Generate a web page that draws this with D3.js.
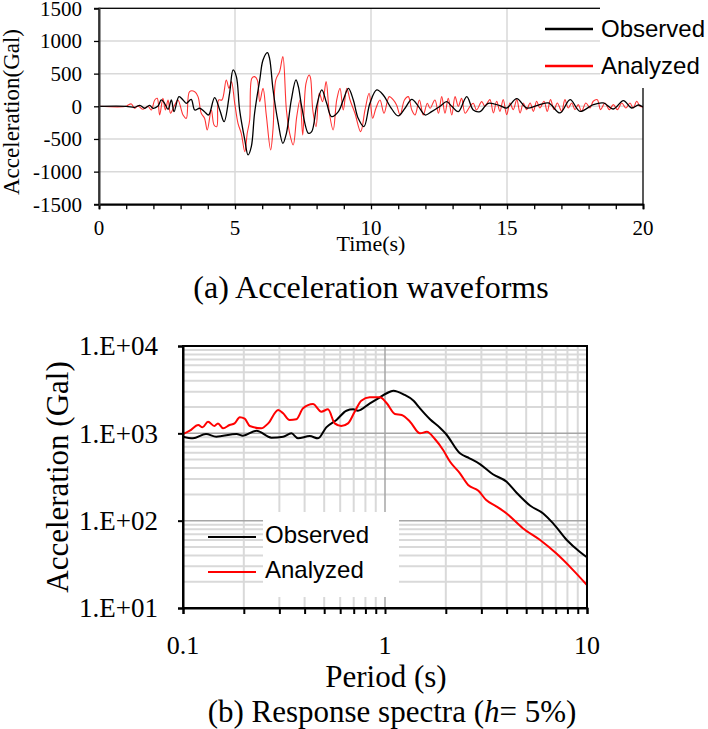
<!DOCTYPE html>
<html><head><meta charset="utf-8">
<script src="https://cdn.jsdelivr.net/npm/d3@7"></script>
<style>
html,body{margin:0;padding:0;background:#fff;}
svg{display:block;}
</style></head>
<body>
<svg id="c" width="708" height="729"></svg>
<script>
// ---- (a) Acceleration waveforms ----
const waveXTicks = [0, 5, 10, 15, 20];
const waveYTicks = [-1500, -1000, -500, 0, 500, 1000, 1500];
const obsTime = [0,1.0,1.31,1.5,1.68,1.86,1.99,2.17,2.29,2.41,
  2.54,2.66,2.76,2.94,3.09,3.21,3.39,3.52,3.7,3.88,
  4.03,4.25,4.44,4.6,4.8,4.93,5.05,5.17,5.36,5.48,
  5.6,5.72,5.91,6.03,6.19,6.27,6.4,6.58,6.76,6.89,
  7.07,7.24,7.33,7.45,7.7,7.82,8.0,8.19,8.37,8.55,
  8.8,8.98,9.17,9.35,9.53,9.74,9.96,10.21,10.45,10.7,
  11.0,11.25,11.5,11.74,11.99,12.23,12.54,12.78,12.97,13.21,
  13.52,13.76,14.01,14.31,14.74,14.99,15.36,15.72,16.09,16.52,
  16.95,17.32,17.68,18.17,18.54,18.91,19.28,19.58,19.83,20];
const obsAccel = [0,0,-15,15,-30,15,-30,5,97,46,
  -46,97,-82,148,97,46,107,-56,-30,-82,
  -133,133,-56,-235,199,556,454,-56,-515,-745,
  -617,-107,403,709,821,734,250,-235,-566,-413,
  97,403,301,0,-413,-388,0,250,46,-158,
  -82,97,275,97,-184,-311,46,250,173,0,
  -148,-30,107,0,-133,-82,0,71,0,-82,
  148,-56,-82,46,10,-26,117,-26,10,51,
  -102,102,-77,26,51,-41,87,-26,20,-10];
const anaTime = [0,1.0,1.07,1.19,1.31,1.43,1.62,1.8,1.92,2.05,
  2.14,2.23,2.35,2.44,2.54,2.63,2.76,2.9,3.09,3.21,
  3.33,3.52,3.64,3.76,3.88,3.98,4.13,4.23,4.33,4.4,
  4.52,4.68,4.78,4.87,4.99,5.11,5.23,5.36,5.45,5.54,
  5.62,5.72,5.82,5.91,6.03,6.15,6.31,6.4,6.5,6.64,
  6.76,6.89,7.01,7.14,7.27,7.39,7.49,7.61,7.73,7.78,
  7.86,7.98,8.1,8.22,8.35,8.47,8.61,8.74,8.86,8.98,
  9.11,9.23,9.41,9.62,9.78,9.93,10.06,10.18,10.33,10.48,
  10.67,10.82,10.94,11.07,11.23,11.37,11.5,11.62,11.78,11.92,
  12.07,12.17,12.35,12.48,12.6,12.72,12.84,12.97,13.09,13.21,
  13.33,13.46,13.64,13.76,13.88,14.07,14.19,14.37,14.5,14.62,
  14.74,14.86,14.99,15.11,15.23,15.36,15.48,15.6,15.72,15.85,
  15.97,16.09,16.21,16.36,16.48,16.6,16.73,16.85,17.01,17.13,
  17.25,17.38,17.5,17.62,17.74,17.9,18.05,18.17,18.32,18.44,
  18.6,18.76,18.91,19.06,19.22,19.37,19.52,19.64,19.77,19.89,
  20];
const anaAccel = [0,0,20,36,-31,5,-46,0,-56,97,
  122,-133,122,-56,97,-107,0,97,-133,-184,
  224,224,148,-107,-184,-362,-56,-286,-311,97,
  97,403,275,377,46,-260,-413,-694,-413,-209,
  428,454,403,71,275,-133,-668,-337,403,530,
  760,-56,-413,-592,-158,97,-439,352,479,428,
  -56,-311,199,71,377,-107,-362,97,275,-56,
  275,97,-107,-388,-56,199,-184,-31,97,-107,
  148,97,20,-133,97,148,-56,-133,97,-133,
  46,-31,97,-107,148,-107,122,-133,148,0,
  122,-107,0,46,-56,71,0,102,-102,77,
  -77,102,-128,51,-51,102,-102,51,-51,51,
  -77,77,-26,77,-77,102,-51,51,-77,102,
  -26,51,-51,26,-77,51,-26,77,102,-51,
  51,-51,26,-51,51,-26,51,-26,77,0,
  -10];

// ---- (b) Response spectra ----
const specXTicks = [0.1, 1, 10];
const specYTicks = [10, 100, 1000, 10000];
const specYLabels = ["1.E+01", "1.E+02", "1.E+03", "1.E+04"];
const obsPeriod = [0.1,0.112,0.13,0.146,0.184,0.198,0.231,0.274,0.313,0.344,
  0.371,0.424,0.466,0.512,0.575,0.644,0.696,0.734,0.842,0.944,
  1.02,1.1,1.25,1.385,1.49,1.67,1.87,2.0,2.35,2.62,
  2.95,3.42,4.0,4.48,5.24,6.07,6.8,7.94,9.2,10];
const obsSa = [916,877,982,916,982,940,1072,893,916,1000,
  877,930,877,1172,1422,1816,1884,1816,2208,2588,
  2877,3080,2750,2366,1930,1450,1160,990,590,518,
  445,340,279,209,148,121,93,60,44,38];
const anaPeriod = [0.1,0.108,0.119,0.125,0.133,0.143,0.149,0.158,0.17,0.18,
  0.191,0.202,0.214,0.244,0.264,0.296,0.313,0.337,0.364,0.393,
  0.44,0.484,0.522,0.564,0.607,0.656,0.708,0.763,0.84,0.944,
  1.02,1.12,1.21,1.33,1.49,1.61,1.77,1.94,2.1,2.35,
  2.58,2.9,3.17,3.57,4.0,4.81,5.86,7.06,8.56,10];
const anaSa = [980,1072,1245,1172,1360,1213,1300,1143,1245,1300,
  1527,1470,1213,1143,1300,1850,1694,1422,1450,1936,
  2168,1770,1884,1300,1213,1300,1770,2366,2588,2588,
  2208,1664,1620,1360,1000,1040,855,644,473,348,
  256,220,172,145,121,82,60,42,27,18.3];

const seriesNames = ["Observed", "Analyzed"];
const seriesColors = ["#000000", "#ff0000"];

const SERIF = "'Liberation Serif','Times New Roman',Times,serif";
const SANS = "'Liberation Sans',Arial,Helvetica,sans-serif";
const svg = d3.select("#c");

// ================= Chart (a) =================
{
  const L = 99, R = 643, T = 8.3, B = 204.3;
  const x = d3.scaleLinear().domain([0, 20]).range([L, R]);
  const y = d3.scaleLinear().domain([-1500, 1500]).range([B, T]);
  const g = svg.append("g");
  g.selectAll(".hg").data(waveYTicks.filter(v => v > -1500 && v < 1500)).join("line")
    .attr("x1", L).attr("x2", R).attr("y1", d => y(d)).attr("y2", d => y(d))
    .attr("stroke", "#d9d9d9").attr("stroke-width", 1.5);
  g.selectAll(".vg").data(waveXTicks.filter(v => v > 0 && v < 20)).join("line")
    .attr("y1", T).attr("y2", B).attr("x1", d => x(d)).attr("x2", d => x(d))
    .attr("stroke", "#d9d9d9").attr("stroke-width", 1.5);
  g.append("defs").append("clipPath").attr("id", "clipA").append("rect")
    .attr("x", L).attr("y", T).attr("width", R - L).attr("height", B - T);
  const line = d3.line().x(d => x(d[0])).y(d => y(d[1])).curve(d3.curveCatmullRom.alpha(0.5));
  g.append("path").datum(anaTime.map((t, i) => [t, anaAccel[i]]))
    .attr("d", line).attr("fill", "none").attr("stroke", "#ff0000")
    .attr("stroke-opacity", 0.8).attr("stroke-width", 1.1).attr("clip-path", "url(#clipA)");
  g.append("path").datum(obsTime.map((t, i) => [t, obsAccel[i]]))
    .attr("d", line).attr("fill", "none").attr("stroke", "#000")
    .attr("stroke-width", 1.3).attr("clip-path", "url(#clipA)");
  g.append("rect").attr("x", L).attr("y", T).attr("width", R - L).attr("height", B - T)
    .attr("fill", "none").attr("stroke", "#000").attr("stroke-width", 1.3);
  const xAxis = d3.axisBottom(x).tickValues(d3.range(0, 21, 1)).tickSize(5).tickFormat("");
  const gx = g.append("g").attr("transform", `translate(0,${B})`).call(xAxis);
  gx.select(".domain").attr("stroke-width", 2);
  gx.selectAll(".tick line").attr("stroke-width", 1.3);
  const yAxis = d3.axisLeft(y).tickValues(waveYTicks).tickSize(5).tickFormat("");
  const gy = g.append("g").attr("transform", `translate(${L},0)`).call(yAxis);
  gy.select(".domain").attr("stroke-width", 2).attr("stroke", "#333");
  gy.selectAll(".tick line").attr("stroke-width", 1.3);
  g.selectAll(".yl").data(waveYTicks).join("text")
    .attr("x", 82).attr("y", d => y(d)).attr("dy", "0.35em")
    .attr("text-anchor", "end").attr("font-family", SERIF).attr("font-size", 21)
    .text(d => d);
  g.selectAll(".xl").data(waveXTicks).join("text")
    .attr("x", d => x(d)).attr("y", 235)
    .attr("text-anchor", "middle").attr("font-family", SERIF).attr("font-size", 21)
    .text(d => d);
  g.append("text").attr("x", 371).attr("y", 251).attr("text-anchor", "middle")
    .attr("font-family", SERIF).attr("font-size", 22).text("Time(s)");
  g.append("text").attr("transform", `translate(19,112) rotate(-90)`)
    .attr("text-anchor", "middle").attr("font-family", SERIF).attr("font-size", 23)
    .text("Acceleration(Gal)");
  g.append("rect").attr("x", 600).attr("y", 0).attr("width", 108).attr("height", 88).attr("fill", "#fff");
  const ly = [29, 66];
  seriesNames.forEach((n, i) => {
    g.append("line").attr("x1", 545).attr("x2", 593).attr("y1", ly[i]).attr("y2", ly[i])
      .attr("stroke", seriesColors[i]).attr("stroke-width", 2.5);
    g.append("text").attr("x", 601).attr("y", ly[i] + 8).attr("font-family", SANS)
      .attr("font-size", 24).text(n);
  });
  svg.append("text").attr("x", 371).attr("y", 298).attr("text-anchor", "middle")
    .attr("font-family", SERIF).attr("font-size", 32).text("(a) Acceleration waveforms");
}

// ================= Chart (b) =================
{
  const L = 183, R = 587, T = 346, B = 608;
  const x = d3.scaleLog().domain([0.1, 10]).range([L, R]);
  const y = d3.scaleLog().domain([10, 10000]).range([B, T]);
  const g = svg.append("g");
  const minorX = [], minorY = [];
  [0.1, 1].forEach(d => { for (let k = 2; k <= 9; k++) minorX.push(d * k); });
  [10, 100, 1000].forEach(d => { for (let k = 2; k <= 9; k++) minorY.push(d * k); });
  g.selectAll(".mvx").data(minorX).join("line")
    .attr("x1", d => x(d)).attr("x2", d => x(d)).attr("y1", T).attr("y2", B)
    .attr("stroke", "#d9d9d9").attr("stroke-width", 2);
  g.selectAll(".mhy").data(minorY).join("line")
    .attr("y1", d => y(d)).attr("y2", d => y(d)).attr("x1", L).attr("x2", R)
    .attr("stroke", "#d9d9d9").attr("stroke-width", 2);
  g.selectAll(".Mvx").data([1]).join("line")
    .attr("x1", d => x(d)).attr("x2", d => x(d)).attr("y1", T).attr("y2", B)
    .attr("stroke", "#a6a6a6").attr("stroke-width", 1.5);
  g.selectAll(".Mhy").data([100, 1000]).join("line")
    .attr("y1", d => y(d)).attr("y2", d => y(d)).attr("x1", L).attr("x2", R)
    .attr("stroke", "#a6a6a6").attr("stroke-width", 1.5);
  g.append("rect").attr("x", 263).attr("y", 512).attr("width", 136).attr("height", 85).attr("fill", "#fff");
  g.append("defs").append("clipPath").attr("id", "clipB").append("rect")
    .attr("x", L).attr("y", T).attr("width", R - L).attr("height", B - T);
  const line = d3.line().x(d => x(d[0])).y(d => y(d[1])).curve(d3.curveMonotoneX);
  g.append("path").datum(obsPeriod.map((p, i) => [p, obsSa[i]]))
    .attr("d", line).attr("fill", "none").attr("stroke", "#000").attr("stroke-width", 2)
    .attr("clip-path", "url(#clipB)");
  g.append("path").datum(anaPeriod.map((p, i) => [p, anaSa[i]]))
    .attr("d", line).attr("fill", "none").attr("stroke", "#ff0000").attr("stroke-width", 2)
    .attr("clip-path", "url(#clipB)");
  g.append("rect").attr("x", L).attr("y", T).attr("width", R - L).attr("height", B - T)
    .attr("fill", "none").attr("stroke", "#000").attr("stroke-width", 2);
  const xAxis = d3.axisBottom(x).tickValues(specXTicks.concat(minorX)).tickSize(6).tickFormat("");
  const gx = g.append("g").attr("transform", `translate(0,${B})`).call(xAxis);
  gx.select(".domain").attr("stroke-width", 2);
  gx.selectAll(".tick line").attr("stroke-width", 2);
  const yAxis = d3.axisLeft(y).tickValues(specYTicks).tickSize(5).tickFormat("");
  const gy = g.append("g").attr("transform", `translate(${L},0)`).call(yAxis);
  gy.select(".domain").attr("stroke-width", 2);
  gy.selectAll(".tick line").attr("stroke-width", 2);
  g.selectAll(".yl").data(specYTicks).join("text")
    .attr("x", 158).attr("y", d => y(d)).attr("dy", "0.35em")
    .attr("text-anchor", "end").attr("font-family", SERIF).attr("font-size", 27)
    .text((d, i) => specYLabels[i]);
  g.selectAll(".xl").data(specXTicks).join("text")
    .attr("x", d => x(d)).attr("y", 654)
    .attr("text-anchor", "middle").attr("font-family", SERIF).attr("font-size", 26)
    .text(d => d);
  g.append("text").attr("x", 386).attr("y", 687).attr("text-anchor", "middle")
    .attr("font-family", SERIF).attr("font-size", 31).text("Period (s)");
  g.append("text").attr("transform", `translate(68,477) rotate(-90)`)
    .attr("text-anchor", "middle").attr("font-family", SERIF).attr("font-size", 31)
    .text("Acceleration (Gal)");
  const ly = [537, 572];
  seriesNames.forEach((n, i) => {
    g.append("line").attr("x1", 208).attr("x2", 256).attr("y1", ly[i]).attr("y2", ly[i])
      .attr("stroke", seriesColors[i]).attr("stroke-width", 2);
    g.append("text").attr("x", 265).attr("y", ly[i] + 6).attr("font-family", SANS)
      .attr("font-size", 24).text(n);
  });
  const cap = svg.append("text").attr("x", 392).attr("y", 722).attr("text-anchor", "middle")
    .attr("font-family", SERIF).attr("font-size", 31);
  cap.append("tspan").text("(b) Response spectra (");
  cap.append("tspan").attr("font-style", "italic").text("h");
  cap.append("tspan").text("= 5%)");
}
</script>
</body></html>
